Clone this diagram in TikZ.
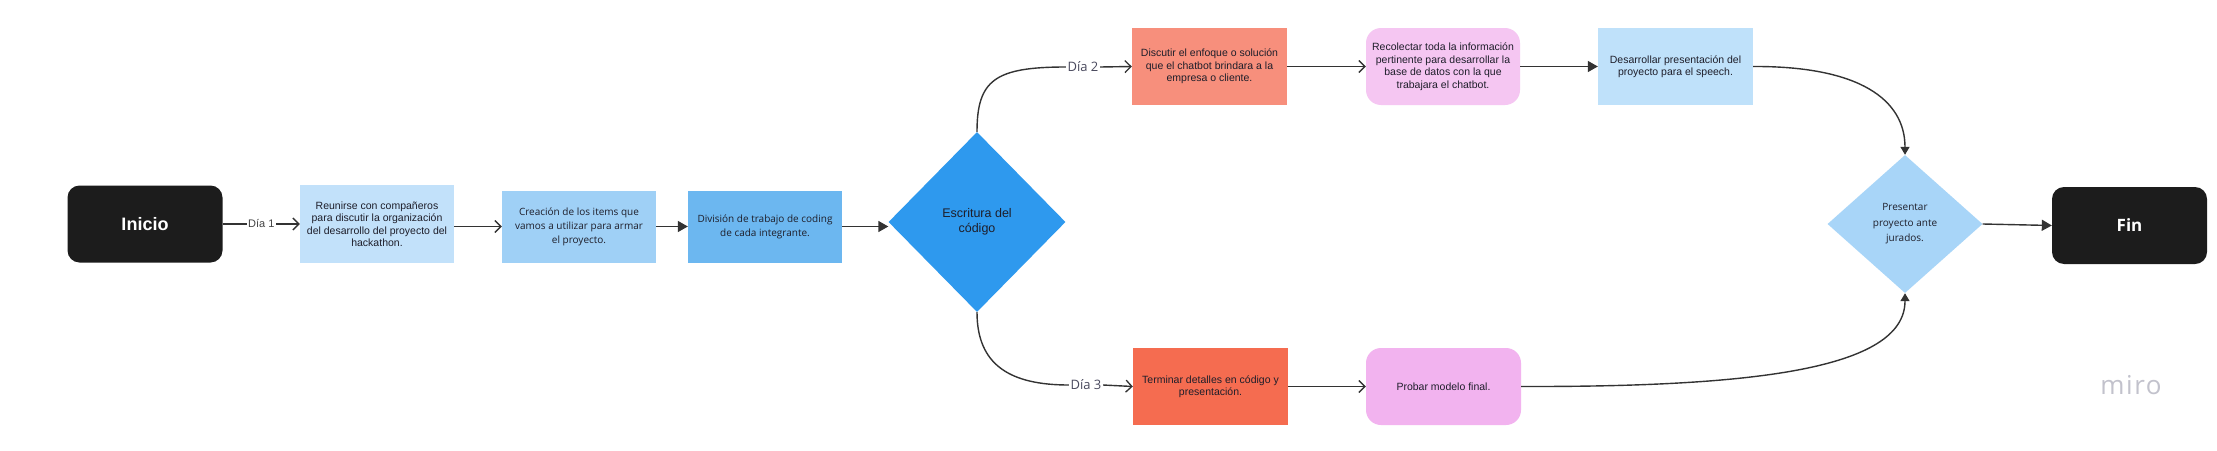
\documentclass[tikz,border=0pt]{standalone}
\usepackage{fontspec}
\setmainfont{Liberation Sans}
\newfontfamily\osans{Open Sans}
\usetikzlibrary{arrows.meta,shapes.geometric}
\definecolor{dark}{HTML}{1C1C1C}
\definecolor{cA}{HTML}{C2E1FA}
\definecolor{cB}{HTML}{9FD0F6}
\definecolor{cC}{HTML}{6CB7F0}
\definecolor{cD}{HTML}{2E99EE}
\definecolor{cE}{HTML}{F78F7C}
\definecolor{cF}{HTML}{F5C6F2}
\definecolor{cG}{HTML}{BFE1FA}
\definecolor{cH}{HTML}{F56C50}
\definecolor{cI}{HTML}{F2B3EF}
\definecolor{cJ}{HTML}{A8D5F8}
\definecolor{txt}{HTML}{1E1E2A}
\definecolor{lnk}{HTML}{333333}
\definecolor{lbl}{HTML}{4A4A5E}
\definecolor{lblA}{HTML}{444444}
\definecolor{wm}{HTML}{C2C2CC}
\begin{document}
\begin{tikzpicture}[x=1pt,y=-1pt,
  box/.style={draw=none,minimum width=155pt,minimum height=77pt,inner sep=2pt,align=center,text=txt,font=\fontsize{10.5}{12.5}\selectfont},
  obox/.style={box,font=\osans\fontsize{10}{14}\selectfont},
  term/.style={box,fill=dark,rounded corners=12pt,text=white},
  dia/.style={diamond,draw=none,inner sep=0pt,align=center,text=txt},
  lab/.style={fill=white,inner sep=1.5pt,text=lbl,font=\osans\fontsize{13}{15}\selectfont},
  link/.style={draw=lnk,line width=1.4pt},
  openarr/.style={link,-{Straight Barb[length=6pt,width=12pt,line width=1.3pt]}},
  fillarr/.style={link,-{Triangle[length=10pt,width=11pt]}},
  smallarr/.style={link,-{Triangle[length=8pt,width=9pt]}}
]
\useasboundingbox (0,0) rectangle (2217,450);
\fill[white] (0,0) rectangle (2217,450);

\node[term,font=\bfseries\fontsize{18}{20}\selectfont] (ini) at (145,224) {Inicio};
\node[box,fill=cA,minimum width=154pt,minimum height=78pt] (b1) at (377,224)
  {Reunirse con compañeros\\para discutir la organización\\del desarrollo del proyecto del\\hackathon.};
\node[obox,fill=cB,minimum width=154pt,minimum height=72pt] (b2) at (579,226.5)
  {Creación de los items que\\vamos a utilizar para armar\\el proyecto.};
\node[obox,fill=cC,minimum width=154pt,minimum height=72pt] (b3) at (765,226.5)
  {División de trabajo de coding\\de cada integrante.};
\node[dia,fill=cD,minimum width=177pt,minimum height=180pt,font=\fontsize{12.5}{15}\selectfont] (d1) at (977,222)
  {Escritura del\\código};

\node[box,fill=cE] (b4) at (1209.5,66.5)
  {Discutir el enfoque o solución\\que el chatbot brindara a la\\empresa o cliente.};
\node[box,fill=cF,rounded corners=15pt,minimum width=154pt] (b5) at (1443,66.5)
  {Recolectar toda la información\\pertinente para desarrollar la\\base de datos con la que\\trabajara el chatbot.};
\node[box,fill=cG] (b6) at (1675.5,66.5)
  {Desarrollar presentación del\\proyecto para el speech.};

\node[box,fill=cH] (b7) at (1210.5,386.5)
  {Terminar detalles en código y\\presentación.};
\node[box,fill=cI,rounded corners=15pt] (b8) at (1443.5,386.5)
  {Probar modelo final.};

\node[dia,fill=cJ,minimum width=155pt,minimum height=138pt,font=\osans\fontsize{10}{15.5}\selectfont] (d2) at (1905,224)
  {Presentar\\proyecto ante\\jurados.};
\node[term,font=\osans\bfseries\fontsize{17}{20}\selectfont] (fin) at (2129.5,225.5) {Fin};

\node[lab] (l2) at (1083,67) {Día 2};
\node[lab] (l3) at (1086,385) {Día 3};
\node[text=wm,font=\osans\addfontfeature{LetterSpace=6}\fontsize{26}{28}\selectfont] (wmk) at (2131,385) {miro};

% connectors
\draw[openarr] (ini.east) -- node[fill=white,inner sep=1.5pt,text=lblA,font=\fontsize{11}{13}\selectfont]{Día 1} (b1.west);
\draw[openarr] (b1.east |- b2.west) -- (b2.west);
\draw[fillarr] (b2.east) -- (b3.west);
\draw[fillarr] (b3.east) -- (b3.east -| d1.west);

\draw[link] (d1.north) .. controls (977,80) and (995,67) .. (l2.west);
\draw[openarr] (l2.east) -- (b4.west);
\draw[openarr] (b4.east) -- (b5.west);
\draw[fillarr] (b5.east) -- (b6.west);
\draw[smallarr] (b6.east) .. controls (1860,66) and (1905,100) .. (d2.north);

\draw[link] (d1.south) .. controls (977,365) and (1010,385) .. (l3.west);
\draw[openarr] (l3.east) -- (b7.west);
\draw[openarr] (b7.east) -- (b8.west);
\draw[smallarr] (b8.east) .. controls (1750,387) and (1905,370) .. (d2.south);
\draw[fillarr] (d2.east) -- (fin.west);
\end{tikzpicture}
\end{document}
